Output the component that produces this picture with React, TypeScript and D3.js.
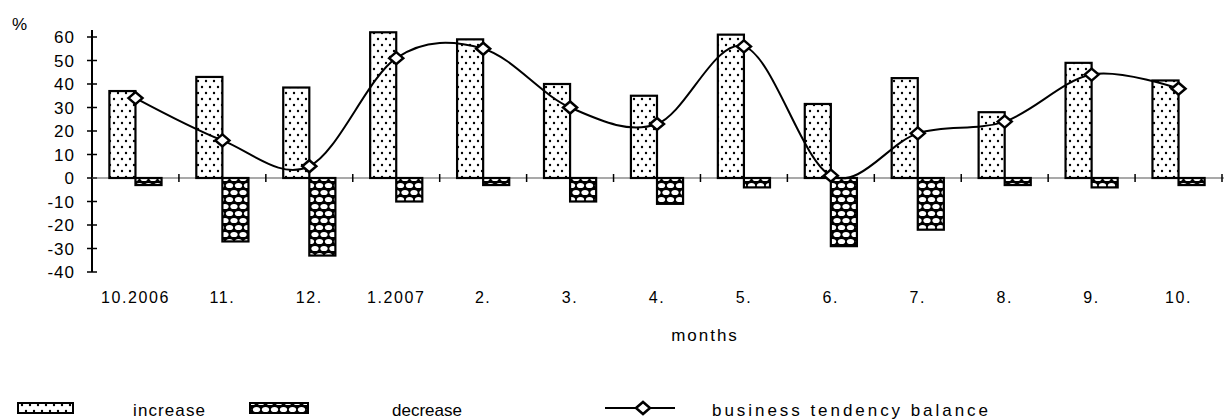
import React from "react";
import * as d3 from "d3";

const months = ["10.2006", "11.", "12.", "1.2007", "2.", "3.", "4.", "5.", "6.", "7.", "8.", "9.", "10."];
const increase = [37, 43, 38.5, 62, 59, 40, 35, 61, 31.5, 42.5, 28, 49, 41.5];
const decrease = [-3, -27, -33, -10, -3, -10, -11, -4, -29, -22, -3, -4, -3];
const balance = [34, 16, 5, 51, 55, 30, 23, 56, 1, 19, 24, 44, 38];
const yTicks = [60, 50, 40, 30, 20, 10, 0, -10, -20, -30, -40];

const W = 1224;
const H = 419;
const font = "'Liberation Sans', Arial, sans-serif";

const App = () => {
  const x = d3.scaleBand<string>().domain(months).range([92, 1222]).paddingInner(0.4).paddingOuter(0.2);
  const y = d3.scaleLinear().domain([-40, 60]).range([272, 37]);
  const step = x.step();
  const bw = x.bandwidth() / 2;
  const cx = (m: string) => (x(m) as number) + x.bandwidth() / 2;

  const line = d3
    .line<number>()
    .x((d, i) => cx(months[i]))
    .y((d) => y(d))
    .curve(d3.curveCardinal.tension(0));

  const boundaries = months.map((m) => (x(m) as number) - step * 0.2).concat([1222]);
  const diamond = (px: number, py: number) =>
    `M${px - 7},${py} L${px},${py - 6} L${px + 7},${py} L${px},${py + 6} Z`;

  return (
    <svg width={W} height={H} style={{ position: "absolute", left: 0, top: 0, background: "#fff" }}>
      <defs>
        <pattern id="dots" width="8" height="12" patternUnits="userSpaceOnUse">
          <rect width="8" height="12" fill="#fff" />
          <circle cx="2" cy="3" r="1.2" fill="#000" />
          <circle cx="6" cy="9" r="1.2" fill="#000" />
        </pattern>
        <pattern id="holes" width="18" height="14" patternUnits="userSpaceOnUse">
          <rect width="18" height="14" fill="#000" />
          <ellipse cx="4.5" cy="3.5" rx="3.6" ry="2.6" fill="#fff" />
          <ellipse cx="13.5" cy="3.5" rx="3.6" ry="2.6" fill="#fff" />
          <ellipse cx="0" cy="10.5" rx="3.6" ry="2.6" fill="#fff" />
          <ellipse cx="9" cy="10.5" rx="3.6" ry="2.6" fill="#fff" />
          <ellipse cx="18" cy="10.5" rx="3.6" ry="2.6" fill="#fff" />
        </pattern>
      </defs>

      {/* y axis */}
      <text x={12} y={30} fontFamily={font} fontSize={17}>%</text>
      <line x1={92} x2={92} y1={y(63)} y2={y(-40)} stroke="#000" strokeWidth={2} />
      {yTicks.map((t) => (
        <g key={t}>
          <line x1={87} x2={97} y1={y(t)} y2={y(t)} stroke="#000" strokeWidth={1.5} />
          <text x={75} y={y(t)} dy="0.36em" textAnchor="end" fontFamily={font} fontSize={17} letterSpacing={1}>
            {t}
          </text>
        </g>
      ))}

      {/* zero line */}
      <line x1={92} x2={W} y1={y(0)} y2={y(0)} stroke="#555" strokeWidth={1.2} />
      {boundaries.slice(1).map((b, i) => (
        <line key={i} x1={b} x2={b} y1={y(0) - 4} y2={y(0) + 4} stroke="#000" strokeWidth={1.5} />
      ))}

      {/* bars */}
      {months.map((m, i) => (
        <g key={m}>
          <rect x={x(m)} y={y(increase[i])} width={bw} height={y(0) - y(increase[i])}
            fill="url(#dots)" stroke="#000" strokeWidth={2.2} />
          <rect x={(x(m) as number) + bw} y={y(0)} width={bw} height={y(decrease[i]) - y(0)}
            fill="url(#holes)" stroke="#000" strokeWidth={2.2} />
        </g>
      ))}

      {/* balance line */}
      <path d={line(balance) || ""} fill="none" stroke="#000" strokeWidth={2} />
      {balance.map((v, i) => (
        <path key={i} d={diamond(cx(months[i]), y(v))} fill="#fff" stroke="#000" strokeWidth={2.5} />
      ))}

      {/* x labels */}
      {months.map((m) => (
        <text key={m} x={cx(m)} y={303} textAnchor="middle" fontFamily={font} fontSize={16} letterSpacing={1.6}>
          {m}
        </text>
      ))}
      <text x={705} y={341} textAnchor="middle" fontFamily={font} fontSize={17} letterSpacing={2}>months</text>

      {/* legend */}
      <rect x={18} y={403} width={55} height={10} fill="url(#dots)" stroke="#000" strokeWidth={2} />
      <text x={133} y={416} fontFamily={font} fontSize={17} textLength={72} lengthAdjust="spacing">increase</text>
      <rect x={250} y={403} width={58} height={10} fill="url(#holes)" stroke="#000" strokeWidth={2} />
      <text x={392} y={416} fontFamily={font} fontSize={17} textLength={70} lengthAdjust="spacing">decrease</text>
      <line x1={605} x2={675} y1={408} y2={408} stroke="#000" strokeWidth={2} />
      <path d={diamond(643, 408)} fill="#fff" stroke="#000" strokeWidth={2.5} />
      <text x={712} y={416} fontFamily={font} fontSize={17} textLength={276} lengthAdjust="spacing">business tendency balance</text>
    </svg>
  );
};

export default App;
